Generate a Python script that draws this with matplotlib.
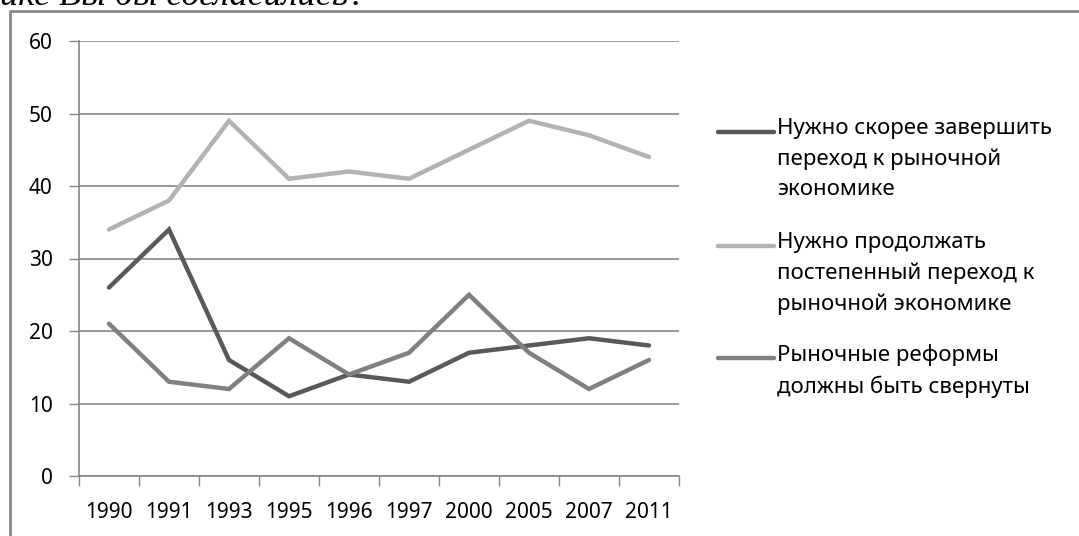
import matplotlib
matplotlib.use("Agg")
import matplotlib.pyplot as plt
from matplotlib.lines import Line2D

years = ["1990", "1991", "1993", "1995", "1996", "1997", "2000", "2005", "2007", "2011"]
finish_fast = [26, 34, 16, 11, 14, 13, 17, 18, 19, 18]
gradual = [34, 38, 49, 41, 42, 41, 45, 49, 47, 44]
rollback = [21, 13, 12, 19, 14, 17, 25, 17, 12, 16]
labels = ["Нужно скорее завершить\nпереход к рыночной\nэкономике",
          "Нужно продолжать\nпостепенный переход к\nрыночной экономике",
          "Рыночные реформы\nдолжны быть свернуты"]
colors = ["#595959", "#b3b3b3", "#808080"]
yticks = [0, 10, 20, 30, 40, 50, 60]
title_tail = "ике Вы бы согласились?"

W, H = 1079, 536
fig = plt.figure(figsize=(W / 100, H / 100), dpi=100)
font = "Noto Sans"

ax = fig.add_axes([79 / W, (H - 476) / H, 600 / W, 435 / H])
x = list(range(len(years)))
series = [finish_fast, gradual, rollback]
for s, c in zip(series, colors):
    ax.plot(x, s, color=c, lw=3.2, solid_capstyle="round", solid_joinstyle="miter", zorder=3)

ax.set_xlim(-0.5, len(years) - 0.5)
ax.set_ylim(0, 60)
ax.set_yticks(yticks)
ax.set_yticklabels([str(v) for v in yticks], fontsize=15, family=font)
ax.set_xticks([i - 0.5 for i in range(len(years) + 1)], minor=False)
ax.set_xticklabels([])
ax.set_xticks(x, minor=True)
ax.set_xticklabels(years, minor=True, fontsize=15, family=font)
ax.tick_params(axis="x", which="major", length=7, width=1, color="#868686", direction="out")
ax.tick_params(axis="x", which="minor", length=0, pad=19)
ax.tick_params(axis="y", length=7, width=1, color="#868686", direction="out", pad=12)
ax.grid(axis="y", color="#868686", lw=1.2)
ax.set_axisbelow(True)
for sp in ["top", "right"]:
    ax.spines[sp].set_visible(False)
for sp in ["left", "bottom"]:
    ax.spines[sp].set_color("#868686")
    ax.spines[sp].set_linewidth(1.2)

# legend (manual, handle aligned to first line)
leg_y = [132, 246, 358]
for lab, c, yy in zip(labels, colors, leg_y):
    fy = (H - yy) / H
    fig.add_artist(Line2D([718 / W, 774 / W], [fy, fy], color=c, lw=3.2,
                          solid_capstyle="round", transform=fig.transFigure))
    fig.text(777 / W, (H - yy + 14) / H, lab, fontsize=16, family=font,
             va="top", ha="left", linespacing=1.58)

# outer frame (left and top)
fig.add_artist(Line2D([10 / W, 10 / W, 1.0], [0, (H - 11) / H, (H - 11) / H],
                      color="#888888", lw=2, transform=fig.transFigure))

fig.text(0, (H - 5) / H, title_tail, fontsize=26, family="Liberation Serif",
         style="italic", va="baseline", ha="left")

fig.savefig("out.png", dpi=100)
